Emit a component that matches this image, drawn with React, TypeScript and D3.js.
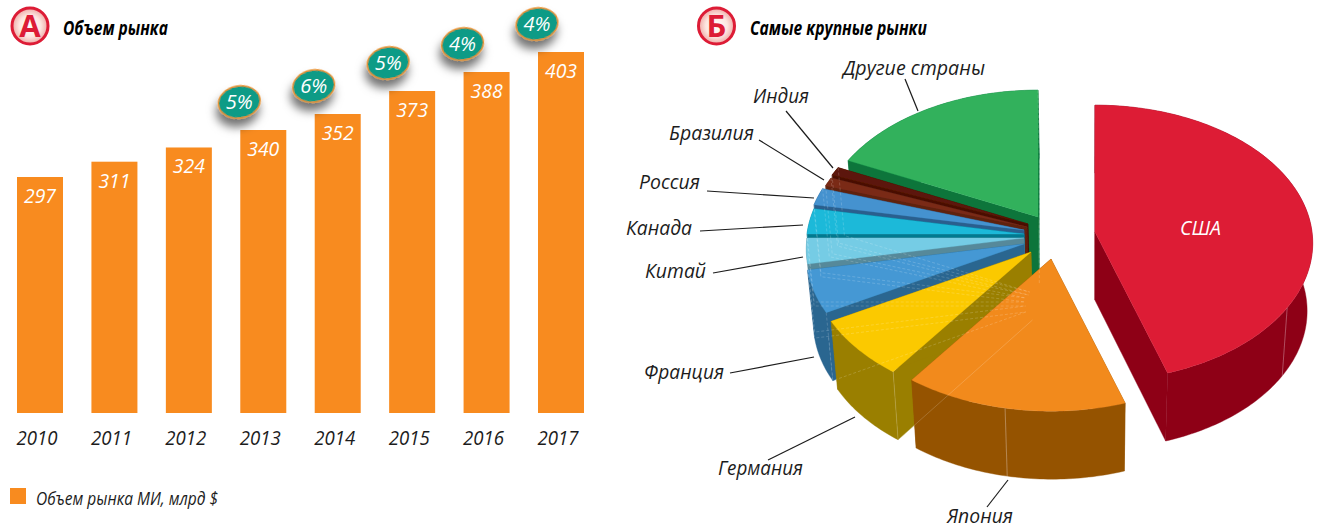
import React from "react";
import * as d3 from "d3";

// ---------- data ----------
const years = ["2010", "2011", "2012", "2013", "2014", "2015", "2016", "2017"];
const marketSize = [297, 311, 324, 340, 352, 373, 388, 403];
const growthYears = ["2013", "2014", "2015", "2016", "2017"];
const growthLabels = ["5%", "6%", "5%", "4%", "4%"];

const countries = ["США", "Япония", "Германия", "Франция", "Китай", "Канада", "Россия", "Бразилия", "Индия", "Другие страны"];
const shares = [45, 15, 7, 5, 3, 3, 2, 1, 1, 18];

// ---------- styles & layout ----------
const FONT = "'Open Sans', 'Noto Sans', sans-serif";
const BAR = "#f88b1f";
const INK = "#1c1c1c";

const topColors = ["#dd1c36", "#f28a1e", "#fbc900", "#4498d4", "#74cce5", "#1cb9d9", "#4492cf", "#7a2c18", "#5c1608", "#30b15c"];
const wallColors = ["#8e0018", "#955304", "#9a7f00", "#2b6690", "#56899a", "#067a90", "#2a5f8e", "#5f2010", "#4a1005", "#0a753a"];
// pivot of each sector on the page (the sectors are pulled apart unevenly)
const pivots: [number, number][] = [
  [1095, 232], [1051, 259], [1031, 252], [1024, 244], [1024, 238],
  [1024, 234], [1024, 230], [1027, 227], [1028, 224], [1038, 217],
];
const rimScale = [1, 1.02, 1.01, 1, 1, 1, 1, 1, 1, 1];
const paintOrder = [9, 8, 7, 6, 5, 4, 3, 2, 0, 1];
const seamAngles: number[][] = [[122], [191], [], [], [], [], [], [], [], []];
const hiddenEdges = [2, 3, 4, 5, 6, 7, 8, 9];

const RX = 217, RY = 137, PERSP = 0.08, DEPTH = 68, VANISH_X = 1090, DEPTH_SCALE = 0.975;

type P = [number, number];
const rim = (a: number, c: P, r = 1): P => {
  const u = r * Math.sin(a), v = -r * Math.cos(a), w = 1 - PERSP * v;
  return [c[0] + (RX * u) / w, c[1] + (RY * v) / w];
};
const drop = (p: P): P => [VANISH_X + (p[0] - VANISH_X) * DEPTH_SCALE, p[1] + DEPTH];
const line = d3.line<P>().x((d) => d[0]).y((d) => d[1]);
const closed = (pts: P[]) => line(pts) + "Z";

const pieArcs = d3.pie<number>().sort(null).startAngle(0).endAngle(2 * Math.PI)(shares);

const labelLayout = [
  { t: "США", x: 1180, y: 235, w: 41, color: "#fff" },
  { t: "Япония", x: 947, y: 523, w: 66, from: [987, 507], to: [1008, 480] },
  { t: "Германия", x: 718, y: 475, w: 85, from: [768, 460], to: [855, 417] },
  { t: "Франция", x: 644, y: 379, w: 80, from: [730, 373], to: [814, 357] },
  { t: "Китай", x: 645, y: 278, w: 61, from: [713, 273], to: [803, 257] },
  { t: "Канада", x: 626, y: 235, w: 66, from: [700, 231], to: [803, 225] },
  { t: "Россия", x: 639, y: 189, w: 61, from: [707, 191], to: [814, 198] },
  { t: "Бразилия", x: 669, y: 140, w: 85, from: [759, 140], to: [824, 180] },
  { t: "Индия", x: 753, y: 103, w: 56, from: [786, 111], to: [833, 168] },
  { t: "Другие страны", x: 843, y: 75, w: 142, from: [905, 79], to: [918, 111] },
];

const x = d3.scaleBand<string>().domain(years).range([17, 584]).paddingInner(0.382);
const BASE = 413;
// the original artwork's bars are not strictly proportional: tops follow the picture
const y = d3.scaleLinear().domain([297, 340, 352, 373, 388, 403]).range([177, 130, 114, 91, 72, 52]);

const Badge = ({ cx, cy, letter }: { cx: number; cy: number; letter: string }) => (
  <g>
    <circle cx={cx} cy={cy} r={18} fill="url(#badge)" stroke="#dd1c36" strokeWidth={3} />
    <text x={cx} y={cy + 11} textAnchor="middle" fontFamily={FONT} fontWeight={700} fontSize={31} fill="#dd1c36">{letter}</text>
  </g>
);

const Sector = ({ i }: { i: number }) => {
  const arc = pieArcs[i];
  const c = pivots[i];
  const r = rimScale[i];
  const steps = d3.range(arc.startAngle, arc.endAngle, Math.PI / 180).concat([arc.endAngle]);
  const top = steps.map((a) => rim(a, c, r));
  const first = top[0], last = top[top.length - 1];
  const fill = topColors[i], wall = wallColors[i];
  return (
    <g>
      <path d={closed([c, first, drop(first), drop(c)])} fill={wall} stroke={wall} strokeWidth={0.4} />
      <path d={closed([c, last, drop(last), drop(c)])} fill={wall} stroke={wall} strokeWidth={0.4} />
      <path d={closed([...top, ...top.slice().reverse().map(drop)])} fill={wall} stroke={wall} strokeWidth={0.4} />
      <path d={closed([c, ...top])} fill={fill} stroke={fill} strokeWidth={0.3} />
      {seamAngles[i].map((deg) => {
        const p = rim((deg * Math.PI) / 180, c, r);
        return <path key={deg} d={line([p, drop(p)])!} stroke="#fff" strokeOpacity={0.3} strokeWidth={1} />;
      })}
    </g>
  );
};

export default function App() {
  return (
    <svg width={1328} height={530} style={{ position: "absolute", left: 0, top: 0, display: "block", background: "#fff" }}>
      <defs>
        <radialGradient id="badge" cx="50%" cy="50%" r="50%">
          <stop offset="0%" stopColor="#ffffff" />
          <stop offset="60%" stopColor="#fde6e0" />
          <stop offset="100%" stopColor="#eea9a5" />
        </radialGradient>
        <filter id="shadow" x="-60%" y="-60%" width="220%" height="240%">
          <feDropShadow dx={-3} dy={8} stdDeviation={5} floodColor="#000" floodOpacity={0.55} />
        </filter>
        <filter id="soft" x="-2%" y="-2%" width="104%" height="104%">
          <feGaussianBlur stdDeviation={0.3} />
        </filter>
      </defs>

      {/* Panel A */}
      <Badge cx={30} cy={26} letter="А" />
      <text x={63} y={35} fontFamily={FONT} fontStyle="italic" fontWeight={700} fontSize={19} fill="#000" textLength={105} lengthAdjust="spacingAndGlyphs">Объем рынка</text>

      {years.map((yr, i) => {
        const bx = x(yr)!, top = y(marketSize[i]);
        return (
          <g key={yr}>
            <rect x={bx} y={top} width={x.bandwidth()} height={BASE - top} fill={BAR} />
            <text x={bx + x.bandwidth() / 2} y={top + 26} textAnchor="middle" fontFamily={FONT} fontStyle="italic" fontSize={20} fill="#fff" textLength={32} lengthAdjust="spacingAndGlyphs">{marketSize[i]}</text>
            <text x={bx + x.bandwidth() / 2 - 3} y={445} textAnchor="middle" fontFamily={FONT} fontStyle="italic" fontSize={20} fill={INK} textLength={41} lengthAdjust="spacingAndGlyphs">{yr}</text>
          </g>
        );
      })}

      {growthYears.map((yr, i) => {
        const cx = x(yr)! + x.bandwidth() / 2 - 24;
        const cy = y(marketSize[years.indexOf(yr)]) - 28;
        return (
          <g key={yr}>
            <ellipse cx={cx} cy={cy} rx={21} ry={16} transform={`rotate(-10 ${cx} ${cy})`} fill="#0a9b86" stroke="#ea8f2c" strokeWidth={1.4} filter="url(#shadow)" />
            <text x={cx} y={cy + 7} textAnchor="middle" fontFamily={FONT} fontStyle="italic" fontSize={20} fill="#fff" textLength={27} lengthAdjust="spacingAndGlyphs">{growthLabels[i]}</text>
          </g>
        );
      })}

      <rect x={10} y={488} width={16} height={16} fill={BAR} />
      <text x={36} y={505} fontFamily={FONT} fontStyle="italic" fontSize={19} fill={INK} textLength={182} lengthAdjust="spacingAndGlyphs">Объем рынка МИ, млрд $</text>

      {/* Panel B */}
      <Badge cx={716.5} cy={26} letter="Б" />
      <text x={750} y={35} fontFamily={FONT} fontStyle="italic" fontWeight={700} fontSize={19} fill="#000" textLength={177} lengthAdjust="spacingAndGlyphs">Самые крупные рынки</text>

      <g filter="url(#soft)">
        {paintOrder.map((i) => <Sector key={i} i={i} />)}
      </g>

      {hiddenEdges.map((i) => {
        const arc = pieArcs[i];
        const c = pivots[i], r = rimScale[i];
        const a = rim(arc.startAngle, c, r), b = rim(arc.endAngle, c, r);
        return (
          <g key={i} fill="none" stroke="#fff" strokeOpacity={0.22} strokeWidth={0.8}>
            {i !== 9 && <path d={line([a, drop(a), drop(c)])!} strokeDasharray={i === 2 ? undefined : "3 2"} />}
            {i !== 2 && <path d={line([b, drop(b), drop(c)])!} strokeDasharray="3 2" />}
          </g>
        );
      })}

      {labelLayout.map((l) => (
        <g key={l.t}>
          {l.from && <path d={line([l.from as P, l.to as P])!} stroke={INK} strokeWidth={1.2} fill="none" />}
          <text x={l.x} y={l.y} fontFamily={FONT} fontStyle="italic" fontSize={20} fill={l.color ?? INK} textLength={l.w} lengthAdjust="spacingAndGlyphs">{countries[countries.indexOf(l.t)]}</text>
        </g>
      ))}
    </svg>
  );
}
